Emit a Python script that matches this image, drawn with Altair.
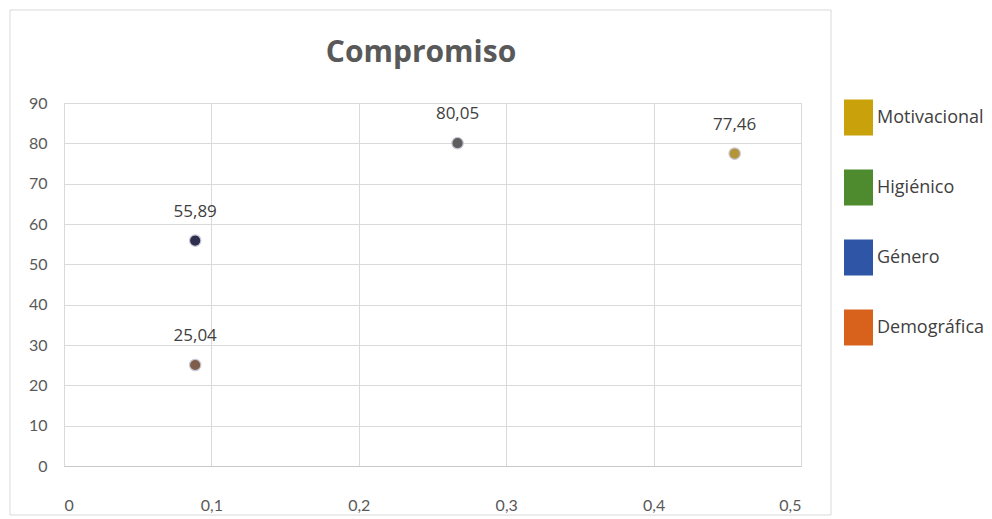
import altair as alt
import pandas as pd

series = ["Motivacional", "Higiénico", "Género", "Demográfica"]
legend_colors = ["#C9A10A", "#4E8B2F", "#2F56A6", "#D8621C"]
marker_colors = ["#B5953A", "#5E5E5E", "#2E2E4E", "#7E5E4A"]
x_vals = [0.455, 0.267, 0.089, 0.089]
y_vals = [77.46, 80.05, 55.89, 25.04]
labels = [f"{v:.2f}".replace(".", ",") for v in y_vals]
title_text = "Compromiso"

df = pd.DataFrame({
    "serie": series,
    "x": x_vals,
    "y": y_vals,
    "label": labels,
    "mcolor": marker_colors,
})

W, H = 737, 363
L, T = 64, 103

xscale = alt.Scale(domain=[0, 0.5], nice=False, zero=True)
yscale = alt.Scale(domain=[0, 90], nice=False)

xaxis = alt.Axis(
    values=[0, 0.1, 0.2, 0.3, 0.4, 0.5],
    labelExpr="replace(format(datum.value, '~g'), '.', ',')",
    title=None, ticks=False, domain=True, domainColor="#C8C8C8",
    grid=True, gridColor="#DADADA", labelPadding=31,
    labelFont="Lato", labelFontSize=16, labelColor="#595959",
)
yaxis = alt.Axis(
    values=list(range(0, 91, 10)), title=None, ticks=False, domain=False,
    grid=True, gridColor="#DADADA", labelPadding=17,
    labelFont="Lato", labelFontSize=16, labelColor="#595959",
)

base = alt.Chart(df)

frame = alt.Chart(alt.Data(values=[{"a": 1}])).mark_rect(
    fill=None, stroke="#D9D9D9", strokeWidth=1
).encode(
    x=alt.value(10 - L), x2=alt.value(831 - L),
    y=alt.value(10 - T), y2=alt.value(515 - T),
)

title = alt.Chart(alt.Data(values=[{"t": title_text}])).mark_text(
    font="Open Sans", fontSize=30, fontWeight="bold", color="#595959",
    align="center", baseline="alphabetic",
).encode(
    x=alt.value(421 - L), y=alt.value(62 - T), text="t:N"
)

points = base.mark_circle(size=130, opacity=1, stroke="#C8C8D8", strokeWidth=1.2).encode(
    x=alt.X("x:Q", scale=xscale, axis=xaxis),
    y=alt.Y("y:Q", scale=yscale, axis=yaxis),
    fill=alt.Fill("mcolor:N", scale=None),
)

text = base.mark_text(dy=-29, font="Open Sans", fontSize=17, color="#404040").encode(
    x="x:Q", y="y:Q", text="label:N"
)

legend_layer = base.transform_filter("datum.y < 0").mark_square().encode(
    x="x:Q", y="y:Q",
    color=alt.Color(
        "serie:N",
        scale=alt.Scale(domain=series, range=legend_colors),
        legend=alt.Legend(
            title=None, orient="none", legendX=844 - L, legendY=103 - T,
            symbolType="M-1,-1.24H1V1.24H-1Z", symbolSize=841,
            symbolStrokeWidth=0, symbolOpacity=1,
            labelFont="Open Sans", labelFontSize=18, labelColor="#404040",
            labelOffset=4, rowPadding=33,
        ),
    ),
)

chart = alt.layer(frame, title, points, text, legend_layer).properties(
    width=W, height=H,
    autosize=alt.AutoSizeParams(type="none"),
    padding={"left": L, "top": T, "right": 992 - L - W, "bottom": 519 - T - H},
).configure_view(stroke=None).configure(background="white")

chart.save("out.html", embed_options={"renderer": "svg", "actions": False})
